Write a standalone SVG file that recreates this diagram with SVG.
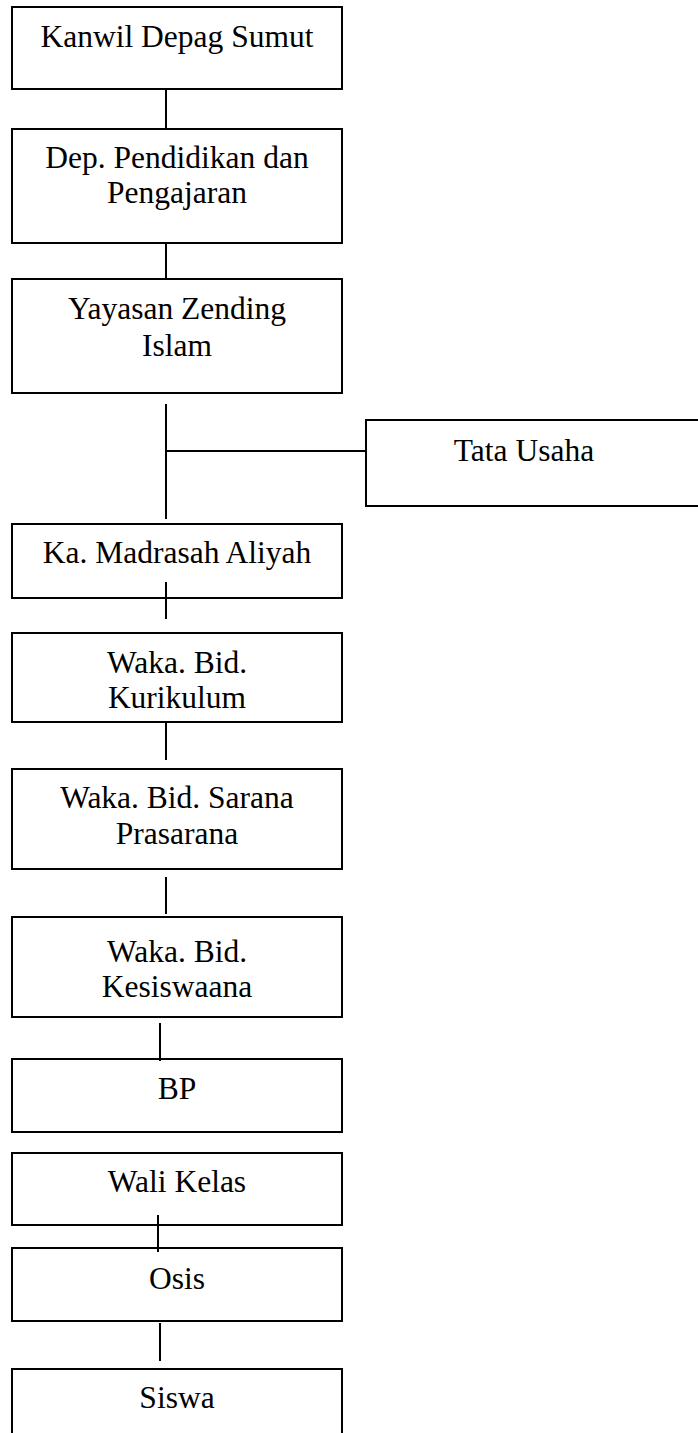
<svg xmlns="http://www.w3.org/2000/svg" width="698" height="1433" viewBox="0 0 698 1433">
<style>
.box{fill:#fff;stroke:#000;stroke-width:2}
.t{font-family:"Liberation Serif","Times New Roman",serif;font-size:31.5px;fill:#000;text-anchor:middle}
.c line{stroke:#000;stroke-width:2}
</style>
<rect width="698" height="1433" fill="#fff"/>
<g id="kanwil"><rect class="box" x="12" y="7" width="330" height="82"/><text class="t" x="177" y="47">Kanwil Depag Sumut</text></g>
<g id="dep"><rect class="box" x="12" y="129" width="330" height="114"/><text class="t" x="177" y="168">Dep. Pendidikan dan</text><text class="t" x="177" y="203">Pengajaran</text></g>
<g id="yayasan"><rect class="box" x="12" y="279" width="330" height="114"/><text class="t" x="177" y="319">Yayasan Zending</text><text class="t" x="177" y="356">Islam</text></g>
<g id="tatausaha"><rect class="box" x="366" y="420" width="340" height="86"/><text class="t" x="524" y="461">Tata Usaha</text></g>
<g id="kamadrasah"><rect class="box" x="12" y="524" width="330" height="74"/><text class="t" x="177" y="563">Ka. Madrasah Aliyah</text></g>
<g id="kurikulum"><rect class="box" x="12" y="633" width="330" height="89"/><text class="t" x="177" y="673">Waka. Bid.</text><text class="t" x="177" y="708">Kurikulum</text></g>
<g id="sarana"><rect class="box" x="12" y="769" width="330" height="100"/><text class="t" x="177" y="808">Waka. Bid. Sarana</text><text class="t" x="177" y="844">Prasarana</text></g>
<g id="kesiswaan"><rect class="box" x="12" y="917" width="330" height="100"/><text class="t" x="177" y="962">Waka. Bid.</text><text class="t" x="177" y="997">Kesiswaana</text></g>
<g id="bp"><rect class="box" x="12" y="1059" width="330" height="73"/><text class="t" x="177" y="1099">BP</text></g>
<g id="walikelas"><rect class="box" x="12" y="1153" width="330" height="72"/><text class="t" x="177" y="1192">Wali Kelas</text></g>
<g id="osis"><rect class="box" x="12" y="1248" width="330" height="73"/><text class="t" x="177" y="1289">Osis</text></g>
<g id="siswa"><rect class="box" x="12" y="1369" width="330" height="80"/><text class="t" x="177" y="1408">Siswa</text></g>
<g id="connectors" class="c">
<line x1="166" y1="89" x2="166" y2="129"/>
<line x1="166" y1="243" x2="166" y2="279"/>
<line x1="166" y1="404" x2="166" y2="519"/>
<line x1="166" y1="451" x2="366" y2="451"/>
<line x1="166" y1="582" x2="166" y2="619"/>
<line x1="166" y1="722" x2="166" y2="760"/>
<line x1="166" y1="877" x2="166" y2="914"/>
<line x1="160" y1="1023" x2="160" y2="1061"/>
<line x1="158" y1="1215" x2="158" y2="1252"/>
<line x1="160" y1="1323" x2="160" y2="1361"/>
</g>
</svg>
